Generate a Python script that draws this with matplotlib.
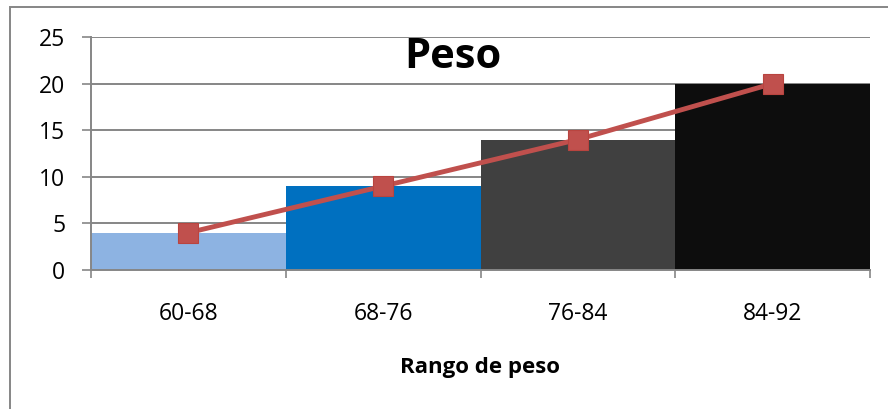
"""
Histograma de peso con poligono de frecuencias (estilo Excel)
"""
import matplotlib
matplotlib.use("Agg")
import matplotlib.pyplot as plt
from matplotlib.patches import Rectangle

# datos
rangos = ["60-68", "68-76", "76-84", "84-92"]
frecuencias = [4, 9, 14, 20]
colores_barras = ["#8DB3E2", "#0070C0", "#404040", "#0D0D0D"]
y_ticks = [0, 5, 10, 15, 20, 25]

plt.rcParams['font.family'] = ['Open Sans', 'DejaVu Sans']
gris = "#868686"

fig = plt.figure(figsize=(8.88, 4.09), dpi=100)
ax = fig.add_axes([91 / 888, 1 - 270 / 409, (870 - 91) / 888, (270 - 37) / 409])

pos = list(range(len(rangos)))
ax.bar(pos, frecuencias, width=1.0, color=colores_barras, zorder=2)
ax.plot(pos, frecuencias, color="#C0504D", lw=3.5, marker="s", markersize=15,
        markeredgecolor="#B9443F", markeredgewidth=0.8, zorder=3)

ax.set_xlim(-0.5, len(rangos) - 0.5)
ax.set_ylim(0, 25)
ax.set_yticks(y_ticks)
ax.grid(axis="y", color=gris, lw=1.4, zorder=1)

# ticks entre categorias, etiquetas centradas
ax.set_xticks([p - 0.5 for p in pos] + [len(rangos) - 0.5])
ax.set_xticklabels([])
ax.set_xticks(pos, minor=True)
ax.set_xticklabels(rangos, minor=True, fontsize=16.5)
ax.tick_params(axis="x", which="major", length=6, width=1.2, color=gris)
ax.tick_params(axis="x", which="minor", length=0, pad=23)
ax.tick_params(axis="y", length=6.5, width=1.2, color=gris, labelsize=16.5, pad=12)

for side in ["top", "right"]:
    ax.spines[side].set_visible(False)
ax.spines["left"].set_color(gris)
ax.spines["bottom"].set_color(gris)
ax.spines["left"].set_linewidth(1.4)
ax.spines["bottom"].set_linewidth(1.4)

fig.text(453 / 888, 1 - 58 / 409, "Peso", fontsize=30, fontweight="bold",
         ha="center", va="center")
fig.text(480 / 888, 1 - 367 / 409, "Rango de peso", fontsize=16, fontweight="bold",
         ha="center", va="center")

# marco del grafico (recortado a la derecha y abajo)
fig.patches.append(Rectangle((10 / 888, -0.1), 1.2, 1.1 - 7 / 409, transform=fig.transFigure,
                             fill=False, edgecolor=gris, lw=1.4))

fig.savefig("out.png", dpi=100)
